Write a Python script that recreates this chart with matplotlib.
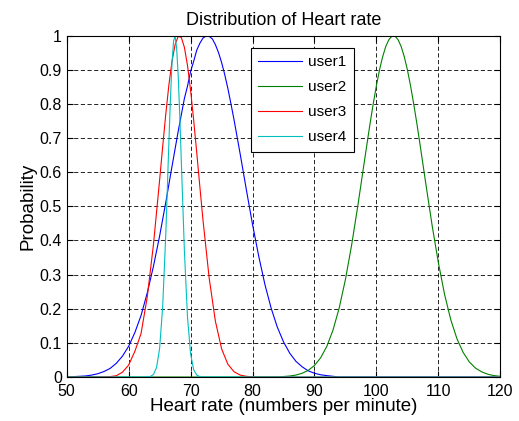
import numpy as np
import matplotlib
matplotlib.use('Agg')
import matplotlib.pyplot as plt

plt.rcParams['font.family'] = ['Liberation Sans', 'DejaVu Sans']

# values (peak normalised to 1)
user1_x = [50, 51, 52, 53, 54, 55, 56, 57, 58, 59, 60, 61, 62, 63, 64, 65, 66, 67, 68, 69,
           69.5, 70, 70.5, 71, 71.5, 72, 72.5, 73, 73.5, 74, 74.5, 75, 75.5, 76, 76.5,
           77, 78, 79, 80, 81, 82, 83, 84, 85, 86, 87, 88, 89, 90, 91, 92, 93, 94]
user1_y = [0.0005, 0.001, 0.002, 0.003, 0.0055, 0.0095, 0.016, 0.025, 0.04, 0.061,
           0.09, 0.13, 0.18, 0.246, 0.324, 0.413, 0.512, 0.617, 0.72, 0.816,
           0.852, 0.895, 0.925, 0.958, 0.978, 0.993, 0.999, 0.998, 0.991, 0.974,
           0.951, 0.922, 0.887, 0.847, 0.802, 0.755, 0.654, 0.549, 0.447, 0.354,
           0.271, 0.202, 0.146, 0.103, 0.07, 0.046, 0.03, 0.018, 0.011, 0.0065,
           0.004, 0.002, 0.0]

user2_x = [84, 85, 86, 87, 88, 89, 90, 91, 92, 93, 94, 95, 96, 97, 98, 99,
           99.5, 100, 100.5, 101, 101.5, 102, 102.5, 103, 103.5, 104, 104.5, 105,
           105.5, 106, 106.5, 107, 108, 109, 110, 111, 112, 113, 114, 115, 116, 117,
           118, 119, 120]
user2_y = [0.0, 0.0014, 0.0029, 0.0057, 0.0108, 0.0195, 0.0339, 0.0564, 0.0901, 0.138,
           0.203, 0.286, 0.387, 0.502, 0.625, 0.746, 0.802, 0.854, 0.9, 0.938,
           0.968, 0.988, 0.999, 0.999, 0.988, 0.968, 0.938, 0.9, 0.854, 0.802,
           0.746, 0.686, 0.563, 0.443, 0.335, 0.242, 0.168, 0.112, 0.072, 0.044,
           0.026, 0.015, 0.008, 0.004, 0.002]

user3_x = [55, 56, 57, 58, 59, 60, 61, 62, 63, 64, 65, 65.5, 66, 66.5, 67, 67.5, 68,
           68.5, 69, 69.5, 70, 70.5, 71, 71.5, 72, 73, 74, 75, 76, 77, 78, 79, 80, 81]
user3_y = [0.0001, 0.0003, 0.0012, 0.0037, 0.014, 0.035, 0.075, 0.127, 0.234, 0.387,
           0.577, 0.676, 0.771, 0.856, 0.925, 0.974, 0.998, 0.995, 0.966, 0.913,
           0.84, 0.752, 0.656, 0.557, 0.46, 0.29, 0.164, 0.083, 0.038, 0.0156,
           0.0057, 0.0019, 0.0006, 0.0]

user4_x = [62, 62.5, 63, 63.5, 64, 64.5, 65, 65.5, 66, 66.5, 66.75, 67, 67.25, 67.5,
           67.75, 68, 68.25, 68.5, 69, 69.5, 70, 70.5, 71, 71.5, 72]
user4_y = [0.0, 0.0001, 0.0003, 0.0016, 0.0073, 0.0274, 0.0837, 0.208, 0.42, 0.689,
           0.817, 0.92, 0.984, 0.999, 0.963, 0.883, 0.768, 0.634, 0.37, 0.176,
           0.068, 0.021, 0.0055, 0.0011, 0.0002]

series = [(user1_x, user1_y, 'user1', (0, 0, 1)),
          (user2_x, user2_y, 'user2', (0, 0.5, 0)),
          (user3_x, user3_y, 'user3', (1, 0, 0)),
          (user4_x, user4_y, 'user4', (0, 0.75, 0.75))]

fig = plt.figure(figsize=(5.19, 4.21), dpi=100)
ax = fig.add_axes([0.1285, 0.1045, 0.8355, 0.8107])

for x, y, name, col in series:
    # pad with zeros so every curve spans the full axis like the original
    xx = np.concatenate([[50], x, [120]])
    yy = np.concatenate([[0], y, [0]])
    ax.plot(xx, yy, color=col, lw=0.8, label=name)

ax.set_xlim(50, 120)
ax.set_ylim(0, 1)
ax.set_xticks(np.arange(50, 121, 10))
ax.set_yticks(np.arange(0, 1.01, 0.1))
ax.set_yticklabels(['0', '0.1', '0.2', '0.3', '0.4', '0.5', '0.6', '0.7', '0.8', '0.9', '1'])
ax.grid(True, color='black', linestyle=(0, (5, 3)), linewidth=0.6)
ax.tick_params(direction='in', top=True, right=True, length=4, labelsize=11.5)
ax.tick_params(axis='x', pad=5)
ax.tick_params(axis='y', pad=3.5)
for s in ax.spines.values():
    s.set_linewidth(0.8)

ax.set_title('Distribution of Heart rate', fontsize=13, pad=8)
ax.set_xlabel('Heart rate (numbers per minute)', fontsize=13.5, labelpad=-1)
ax.set_ylabel('Probability', fontsize=13.5, labelpad=2)

leg = ax.legend(loc='upper left', bbox_to_anchor=(0.424, 0.965), borderaxespad=0,
                fancybox=False, framealpha=1, edgecolor='black', fontsize=11,
                handlelength=2.9, handletextpad=0.35, labelspacing=0.72, borderpad=0.5)
leg.get_frame().set_linewidth(0.8)

fig.savefig('out.png', dpi=100)
